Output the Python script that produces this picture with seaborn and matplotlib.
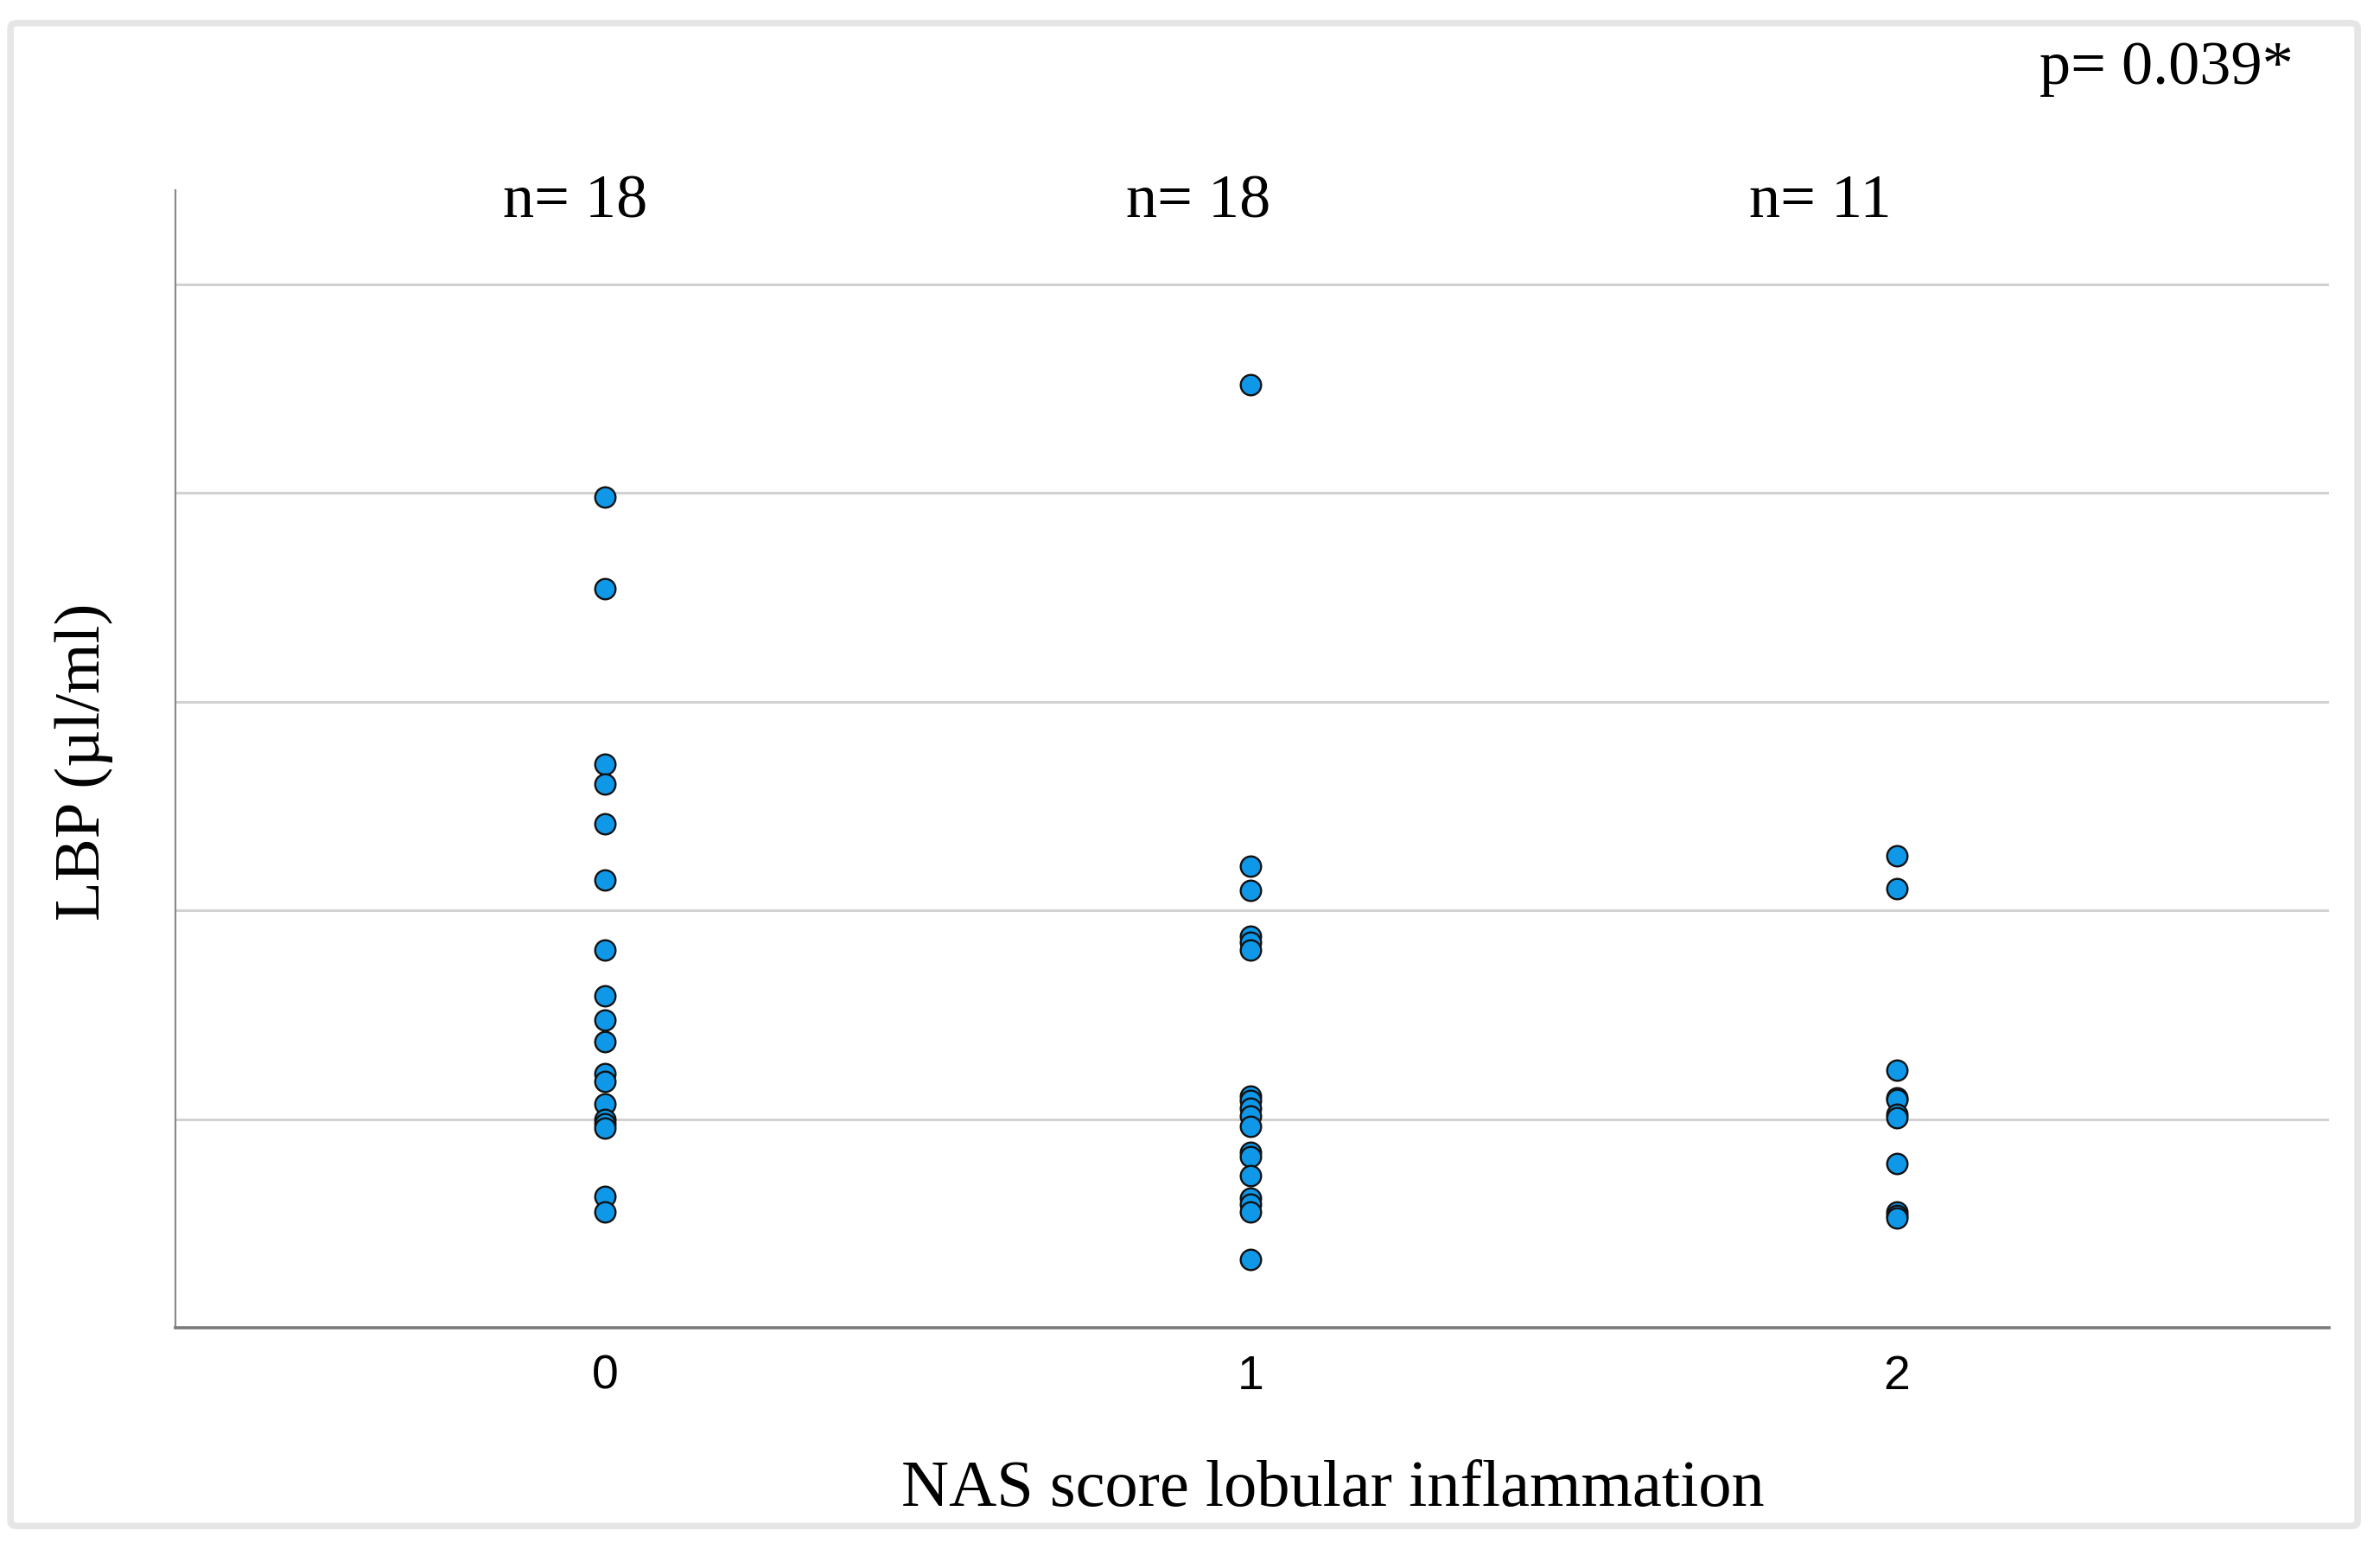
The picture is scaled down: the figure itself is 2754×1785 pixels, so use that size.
import matplotlib
matplotlib.use("Agg")
import matplotlib.pyplot as plt
import matplotlib.patches as mpatches
import numpy as np
import pandas as pd
import seaborn as sns

# values (y axis has no tick labels, gridlines at 1..5)
lbp_score0 = [3.978, 3.540, 2.701, 2.606, 2.416, 2.146, 1.810, 1.591, 1.474,
              1.372, 1.219, 1.182, 1.073, 1.000, 0.978, 0.956, 0.628, 0.555]
lbp_score1 = [4.518, 2.212, 2.095, 1.876, 1.847, 1.810, 1.109, 1.088, 1.051,
              1.015, 0.964, 0.839, 0.818, 0.730, 0.620, 0.591, 0.555, 0.328]
lbp_score2 = [2.263, 2.102, 1.234, 1.102, 1.095, 1.022, 1.007, 0.788, 0.555,
              0.540, 0.526]
categories = ["0", "1", "2"]
n_labels = ["n= 18", "n= 18", "n= 11"]
p_label = "p= 0.039*"

sns.set_theme(style="white")
plt.rcParams['font.family'] = ['Liberation Serif', 'DejaVu Serif']
plt.rcParams['text.color'] = 'black'
plt.rcParams['xtick.color'] = 'black'

df = pd.DataFrame({
    'score': [categories[0]] * len(lbp_score0) + [categories[1]] * len(lbp_score1)
             + [categories[2]] * len(lbp_score2),
    'lbp': lbp_score0 + lbp_score1 + lbp_score2,
})

fig = plt.figure(figsize=(27.54, 17.85), dpi=100)
ax = fig.add_axes([0.0737, 0.1395, 0.905, 0.7373])

# grid lines first so points sit on top
for g in [1, 2, 3, 4, 5]:
    ax.axhline(g, color='#d2d2d2', lw=2.2, zorder=0)

sns.stripplot(data=df, x='score', y='lbp', order=categories, jitter=False,
              color='#0f97e8', edgecolor='#111111', linewidth=1.7, size=17,
              ax=ax, zorder=3)

ax.set_xlim(-0.665, 2.67)
ax.set_ylim(0, 5.45)
ax.set_yticks([])
ax.set_xlabel('')
ax.set_ylabel('')
ax.tick_params(axis='x', length=0, pad=22, labelcolor='black')
for lab in ax.get_xticklabels():
    lab.set_fontfamily('Liberation Sans')
    lab.set_fontsize(40)

for side in ['top', 'right']:
    ax.spines[side].set_visible(False)
ax.spines['left'].set_color('#8a8a8a')
ax.spines['left'].set_linewidth(1.6)
ax.spines['bottom'].set_color('#7a7a7a')
ax.spines['bottom'].set_linewidth(2.6)

# labels
fig.text(0.56, 0.0347, 'NAS score lobular inflammation', ha='center', va='center',
         fontsize=55, color='black')
fig.text(0.0352, 0.506, 'LBP (µl/ml)', ha='center', va='center', rotation=90,
         fontsize=54, color='black')
for xpos, lab in zip([0.2418, 0.5036, 0.765], n_labels):
    fig.text(xpos, 0.869, lab, ha='center', va='center', fontsize=52, color='black')
fig.text(0.9104, 0.9557, p_label, ha='center', va='center', fontsize=52, color='black')

# light frame around the whole figure
frame = mpatches.FancyBboxPatch((0.0044, 0.011), 0.9862, 0.974,
                                boxstyle='round,pad=0,rounding_size=0.003',
                                transform=fig.transFigure, fill=False,
                                edgecolor='#e6e6e6', lw=5.5)
fig.patches.append(frame)

fig.savefig('out.png', dpi=100)
plt.close(fig)
